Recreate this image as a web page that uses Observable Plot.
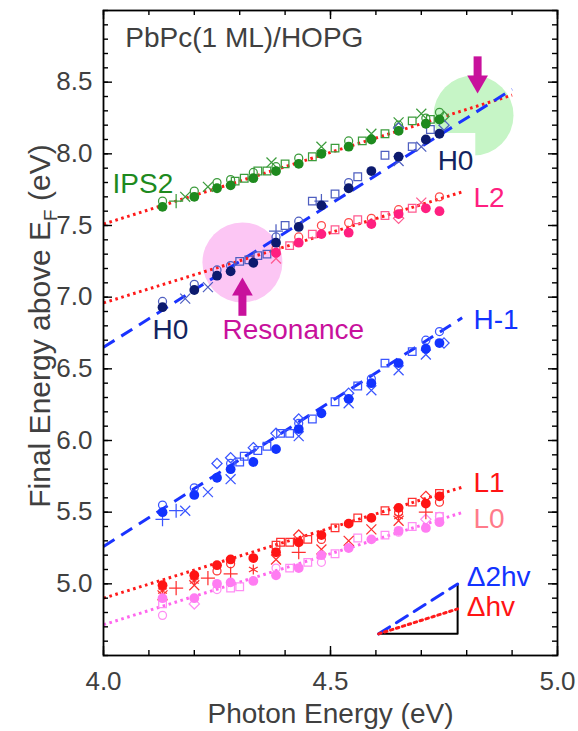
<!DOCTYPE html>
<html><head><meta charset="utf-8">
<script src="https://cdn.jsdelivr.net/npm/d3@7"></script>
<script src="https://cdn.jsdelivr.net/npm/@observablehq/plot@0.6"></script>
<style>body{margin:0;background:#fff} svg{display:block}</style>
</head><body><div id="chart"></div>
<script>
// ---------- data ----------
const photonX = [4.13, 4.20, 4.25, 4.28, 4.33, 4.38, 4.43, 4.48, 4.54, 4.59, 4.65, 4.71, 4.74];

// IPS2
const ips2FilledY = [7.63, 7.70, 7.76, 7.78, 7.83, 7.88, 7.93, 8.00, 8.05, 8.10, 8.16, 8.21, 8.24];
const ips2CircleX = [4.13, 4.20, 4.25, 4.28, 4.33, 4.38, 4.43, 4.54, 4.65, 4.71, 4.74];
const ips2CircleY = [7.67, 7.74, 7.80, 7.82, 7.87, 7.91, 7.97, 8.09, 8.20, 8.25, 8.29];
const ips2SquareX = [4.29, 4.31, 4.34, 4.36, 4.40, 4.46, 4.51, 4.57, 4.62, 4.68, 4.72];
const ips2SquareY = [7.81, 7.83, 7.88, 7.88, 7.93, 7.98, 8.04, 8.09, 8.14, 8.23, 8.24];
const ips2TimesX = [4.18, 4.23, 4.37, 4.48, 4.59, 4.65, 4.70];
const ips2TimesY = [7.70, 7.77, 7.94, 8.05, 8.14, 8.22, 8.28];
const ips2DiamondX = [4.75];
const ips2DiamondY = [8.26];
const ips2PlusX = [4.16];
const ips2PlusY = [7.67];

// H0
const h0FilledY = [6.93, 7.05, 7.15, 7.18, 7.24, 7.38, 7.49, 7.64, 7.76, 7.88, 7.98, 8.10, 8.14];
const h0CircleX = [4.13, 4.20, 4.25, 4.28, 4.38, 4.43, 4.54];
const h0CircleY = [6.97, 7.09, 7.19, 7.22, 7.42, 7.53, 7.80];
const h0SquareX = [4.30, 4.32, 4.34, 4.36, 4.40, 4.46, 4.51, 4.56, 4.62, 4.68, 4.72];
const h0SquareY = [7.25, 7.26, 7.29, 7.30, 7.50, 7.67, 7.72, 7.84, 7.99, 8.05, 8.17];
const h0TimesX = [4.18, 4.23, 4.65, 4.70];
const h0TimesY = [6.99, 7.07, 7.95, 8.05];
const h0DiamondX = [4.65, 4.75];
const h0DiamondY = [8.18, 8.20];
const h0PlusX = [4.38, 4.48];
const h0PlusY = [7.46, 7.67];

// L2
const l2FilledX = [4.38, 4.43, 4.48, 4.54, 4.59, 4.65, 4.71, 4.74];
const l2FilledY = [7.31, 7.38, 7.44, 7.45, 7.51, 7.58, 7.62, 7.60];
const l2CircleX = [4.38, 4.43, 4.48, 4.54, 4.59, 4.65, 4.74];
const l2CircleY = [7.34, 7.42, 7.50, 7.52, 7.55, 7.61, 7.70];
const l2SquareX = [4.41, 4.46, 4.51, 4.56, 4.62, 4.68];
const l2SquareY = [7.36, 7.44, 7.47, 7.54, 7.57, 7.62];
const l2DiamondX = [4.65];
const l2DiamondY = [7.55];
const l2TimesX = [4.38, 4.70];
const l2TimesY = [7.27, 7.66];

// H-1
const hm1FilledY = [5.50, 5.62, 5.74, 5.80, 5.85, 5.94, 6.08, 6.19, 6.29, 6.40, 6.54, 6.64, 6.68];
const hm1CircleX = [4.13, 4.20, 4.28, 4.43, 4.59, 4.71, 4.74];
const hm1CircleY = [5.55, 5.67, 5.84, 6.12, 6.43, 6.70, 6.76];
const hm1SquareX = [4.30, 4.31, 4.34, 4.36, 4.39, 4.41, 4.46, 4.51, 4.56, 4.62, 4.68];
const hm1SquareY = [5.85, 5.89, 5.93, 5.96, 6.05, 6.05, 6.15, 6.27, 6.38, 6.54, 6.62];
const hm1TimesX = [4.18, 4.23, 4.28, 4.43, 4.54, 4.59, 4.65, 4.71];
const hm1TimesY = [5.51, 5.64, 5.73, 6.03, 6.26, 6.35, 6.49, 6.60];
const hm1PlusX = [4.13, 4.16];
const hm1PlusY = [5.45, 5.51];
const hm1DiamondX = [4.25, 4.28, 4.33, 4.38, 4.43, 4.54, 4.75];
const hm1DiamondY = [5.84, 5.88, 5.95, 6.05, 6.15, 6.33, 6.68];

// L1
const l1FilledY = [4.99, 5.06, 5.13, 5.17, 5.18, 5.22, 5.29, 5.34, 5.42, 5.46, 5.53, 5.56, 5.61];
const l1SquareX = [4.38, 4.39, 4.41, 4.45, 4.51, 4.56, 4.62, 4.68, 4.74];
const l1SquareY = [5.27, 5.29, 5.29, 5.31, 5.39, 5.46, 5.51, 5.57, 5.63];
const l1CircleX = [4.25, 4.28, 4.48, 4.65, 4.74];
const l1CircleY = [5.09, 5.14, 5.31, 5.50, 5.57];
const l1TimesX = [4.13, 4.20, 4.38, 4.48, 4.54, 4.59, 4.65];
const l1TimesY = [4.92, 4.99, 5.17, 5.24, 5.30, 5.38, 5.44];
const l1PlusX = [4.16, 4.23, 4.28, 4.43, 4.71];
const l1PlusY = [4.97, 5.04, 5.07, 5.22, 5.50];
const l1DiamondX = [4.43, 4.71];
const l1DiamondY = [5.34, 5.61];
const l1AsteriskX = [4.13, 4.20, 4.33, 4.65];
const l1AsteriskY = [4.95, 5.02, 5.10, 5.47];

// L0
const l0FilledY = [4.90, 4.90, 5.00, 5.01, 5.02, 5.06, 5.11, 5.20, 5.25, 5.31, 5.37, 5.39, 5.43];
const l0CircleX = [4.13, 4.25, 4.38, 4.48, 4.65, 4.74];
const l0CircleY = [4.78, 4.96, 5.11, 5.15, 5.36, 5.47];
const l0SquareX = [4.13, 4.28, 4.30, 4.41, 4.45, 4.51, 4.56, 4.62, 4.68, 4.74];
const l0SquareY = [4.86, 4.97, 4.98, 5.11, 5.15, 5.21, 5.32, 5.34, 5.40, 5.47];
const l0DiamondX = [4.20, 4.71];
const l0DiamondY = [4.86, 5.45];

// guide lines (value at 4.0 eV, slope, end)
const fitName  = ["IPS2", "H0", "L2", "H-1", "L1", "L0"];
const fitAt4   = [7.51, 6.65, 6.96, 5.26, 4.90, 4.715];
const fitSlope = [1.00, 2.00, 0.98, 2.02, 0.98, 0.99];
const fitEnd   = [4.90, 4.90, 4.79, 4.79, 4.79, 4.79];

// labels
const labelText  = ["PbPc(1 ML)/HOPG", "IPS2", "H0", "L2", "H0", "Resonance", "H-1", "L1", "L0", "Δ2hv", "Δhv"];
const labelX     = [4.048, 4.020, 4.736, 4.815, 4.108, 4.262, 4.815, 4.815, 4.815, 4.800, 4.800];
const labelY     = [8.81, 7.79, 7.95, 7.69, 6.77, 6.77, 6.84, 5.70, 5.45, 5.05, 4.84];
const labelColor = ["#404040", "#1e8a1e", "#13245f", "#ff1f80", "#13245f", "#c8119c", "#1233ff", "#ff1414", "#ff7b8a", "#1233ff", "#ff1414"];

// highlight circles & arrows
const spotX = [4.815, 4.306];
const spotY = [8.268, 7.242];
const spotColor = ["#c6f5c6", "#fcc6f4"];
const arrowX = [4.824, 4.306];
const arrowTail = [8.68, 6.87];
const arrowHead = [8.505, 7.053];
const arrowRot = [180, 0];

// slope key triangle
const keyX0 = 4.606, keyX1 = 4.78, keyY0 = 4.651;

// axis ticks
const xMajor = [4.0, 4.5, 5.0];
const yMajor = [5.0, 5.5, 6.0, 6.5, 7.0, 7.5, 8.0, 8.5];
const xMinor = d3.range(4.0, 5.001, 0.1);
const yMinor = d3.range(4.5, 9.001, 0.1);

// ---------- build ----------
const filledColor = {"IPS2": "#1e8a1e", "H0": "#0c1a6e", "L2": "#ff1f80", "H-1": "#1233ff", "L1": "#ff1414", "L0": "#ff7cf2"};
const openColor   = {"IPS2": "#3c9c3c", "H0": "#4f5fc0", "L2": "#ff5a90", "H-1": "#3a55ff", "L1": "#ff3030", "L0": "#ff8ef4"};

const pts = [];
function add(series, sym, xs, ys) { xs.forEach((x, i) => pts.push({series, sym, x, y: ys[i]})); }
add("IPS2", "filled", photonX, ips2FilledY);
add("IPS2", "circle", ips2CircleX, ips2CircleY);
add("IPS2", "square", ips2SquareX, ips2SquareY);
add("IPS2", "times", ips2TimesX, ips2TimesY);
add("IPS2", "diamond2", ips2DiamondX, ips2DiamondY);
add("IPS2", "plus", ips2PlusX, ips2PlusY);
add("H0", "filled", photonX, h0FilledY);
add("H0", "circle", h0CircleX, h0CircleY);
add("H0", "square", h0SquareX, h0SquareY);
add("H0", "times", h0TimesX, h0TimesY);
add("H0", "diamond2", h0DiamondX, h0DiamondY);
add("H0", "plus", h0PlusX, h0PlusY);
add("L2", "filled", l2FilledX, l2FilledY);
add("L2", "circle", l2CircleX, l2CircleY);
add("L2", "square", l2SquareX, l2SquareY);
add("L2", "diamond2", l2DiamondX, l2DiamondY);
add("L2", "times", l2TimesX, l2TimesY);
add("H-1", "filled", photonX, hm1FilledY);
add("H-1", "circle", hm1CircleX, hm1CircleY);
add("H-1", "square", hm1SquareX, hm1SquareY);
add("H-1", "times", hm1TimesX, hm1TimesY);
add("H-1", "plus", hm1PlusX, hm1PlusY);
add("H-1", "diamond2", hm1DiamondX, hm1DiamondY);
add("L1", "filled", photonX, l1FilledY);
add("L1", "square", l1SquareX, l1SquareY);
add("L1", "circle", l1CircleX, l1CircleY);
add("L1", "times", l1TimesX, l1TimesY);
add("L1", "plus", l1PlusX, l1PlusY);
add("L1", "diamond2", l1DiamondX, l1DiamondY);
add("L1", "asterisk", l1AsteriskX, l1AsteriskY);
add("L0", "filled", photonX, l0FilledY);
add("L0", "circle", l0CircleX, l0CircleY);
add("L0", "square", l0SquareX, l0SquareY);
add("L0", "diamond2", l0DiamondX, l0DiamondY);

const fits = fitName.map((name, i) => ({
  name,
  dashed: fitSlope[i] > 1.5,
  color: fitSlope[i] > 1.5 ? "#1a33ff" : (name === "L0" ? "#ff66ee" : "#ff1a1a"),
  pts: [{x: 4.0, y: fitAt4[i]}, {x: fitEnd[i], y: fitAt4[i] + fitSlope[i] * (fitEnd[i] - 4.0)}]
}));

const labels = labelText.map((t, i) => ({t, x: labelX[i], y: labelY[i], c: labelColor[i]}));
const spots = spotX.map((x, i) => ({x, y: spotY[i], c: spotColor[i]}));
const arrows = arrowX.map((x, i) => ({x, tail: arrowTail[i], head: arrowHead[i], rot: arrowRot[i]}));

const openSyms = ["circle", "square", "times", "diamond2", "plus", "asterisk"];
const symR = {circle: 4.0, square: 4.3, times: 4.6, diamond2: 4.6, plus: 4.6, asterisk: 4.8};

const W = 578, H = 731, ML = 103, MR = 21, MT = 10, MB = 76;
const innerW = W - ML - MR, innerH = H - MT - MB;

const marks = [
  Plot.dot(spots, {x: "x", y: "y", r: 40, fill: "c", stroke: null}),
  Plot.rect([{x1: 4.727, x2: 4.82, y1: 7.80, y2: 8.142}], {x1: "x1", x2: "x2", y1: "y1", y2: "y2", fill: "white"}),
];
for (const f of fits) {
  marks.push(Plot.line(f.pts, {x: "x", y: "y", stroke: f.color, strokeWidth: 3,
    strokeDasharray: f.dashed ? "13,8" : "2.6,3.6", strokeLinecap: "butt"}));
}
for (const s of openSyms) {
  marks.push(Plot.dot(pts.filter(d => d.sym === s), {
    x: "x", y: "y", symbol: () => s, r: symR[s], fill: "none",
    stroke: d => (d.series === "L2" && s === "circle") ? "#ff4a4a" : openColor[d.series], strokeWidth: 1.25
  }));
}
marks.push(Plot.dot(pts.filter(d => d.sym === "filled"), {x: "x", y: "y", r: 4.9, fill: d => filledColor[d.series], stroke: null}));

// slope key
marks.push(Plot.line([{x: keyX0, y: keyY0}, {x: keyX1, y: keyY0}, {x: keyX1, y: keyY0 + 2 * (keyX1 - keyX0)}],
  {x: "x", y: "y", stroke: "black", strokeWidth: 2}));
marks.push(Plot.line([{x: keyX0, y: keyY0}, {x: keyX1, y: keyY0 + 2 * (keyX1 - keyX0)}],
  {x: "x", y: "y", stroke: "#1a33ff", strokeWidth: 3, strokeDasharray: "13,8"}));
marks.push(Plot.line([{x: keyX0, y: keyY0}, {x: keyX1, y: keyY0 + (keyX1 - keyX0)}],
  {x: "x", y: "y", stroke: "#ff1a1a", strokeWidth: 3, strokeDasharray: "2.6,3.6"}));

// arrows
marks.push(Plot.link(arrows, {x1: "x", x2: "x", y1: "tail", y2: d => d.head + (d.rot === 180 ? 0.03 : -0.03), stroke: "#c8119c", strokeWidth: 8}));
marks.push(Plot.dot(arrows, {x: "x", y: "head", symbol: "triangle", r: 7.7, rotate: "rot", fill: "#c8119c", stroke: null}));

// labels
marks.push(Plot.text(labels, {x: "x", y: "y", text: "t", fill: "c", textAnchor: "start", lineAnchor: "middle", fontSize: 28}));

// inward ticks on all four sides
const tickStyle = {stroke: "black", strokeWidth: 1.4};
marks.push(Plot.tickX(xMinor, {x: d => d, insetTop: innerH - 5, ...tickStyle}));
marks.push(Plot.tickX(xMajor, {x: d => d, insetTop: innerH - 9, ...tickStyle}));
marks.push(Plot.tickX(xMinor, {x: d => d, insetBottom: innerH - 5, ...tickStyle}));
marks.push(Plot.tickX(xMajor, {x: d => d, insetBottom: innerH - 9, ...tickStyle}));
marks.push(Plot.tickY(yMinor, {y: d => d, insetRight: innerW - 5, ...tickStyle}));
marks.push(Plot.tickY(yMajor, {y: d => d, insetRight: innerW - 9, ...tickStyle}));
marks.push(Plot.tickY(yMinor, {y: d => d, insetLeft: innerW - 5, ...tickStyle}));
marks.push(Plot.tickY(yMajor, {y: d => d, insetLeft: innerW - 9, ...tickStyle}));

// tick labels
marks.push(Plot.axisX({anchor: "bottom", ticks: xMajor, tickSize: 0, tickPadding: 16, tickFormat: d => d.toFixed(1), label: null, fontSize: 26}));
marks.push(Plot.axisY({anchor: "left", ticks: yMajor, tickSize: 0, tickPadding: 11, tickFormat: d => d.toFixed(1), label: null, fontSize: 26}));
marks.push(Plot.frame({stroke: "black", strokeWidth: 1.8}));
marks.push(Plot.text(["Photon Energy (eV)"], {frameAnchor: "bottom", lineAnchor: "middle", text: d => d, dy: 59, fontSize: 28, fill: "#404040"}));

const chart = Plot.plot({
  width: W, height: H,
  marginLeft: ML, marginRight: MR, marginTop: MT, marginBottom: MB,
  style: {fontFamily: "Liberation Sans, Arial, sans-serif", fontSize: "26px", color: "#404040", background: "white"},
  x: {domain: [4.0, 5.0]},
  y: {domain: [4.5, 9.0]},
  marks
});
document.getElementById("chart").append(chart);

// y axis title with subscript
const svg = d3.select(chart.tagName.toLowerCase() === "svg" ? chart : chart.querySelector("svg"));
const yt = svg.append("text")
  .attr("transform", "translate(50,326) rotate(-90)")
  .attr("text-anchor", "middle")
  .attr("fill", "#404040")
  .attr("font-size", 30)
  .attr("font-family", "Liberation Sans, Arial, sans-serif");
yt.append("tspan").text("Final Energy above E");
yt.append("tspan").attr("font-size", 19).attr("dy", 7).text("F");
yt.append("tspan").attr("dy", -7).text(" (eV)");
</script>
</body></html>
